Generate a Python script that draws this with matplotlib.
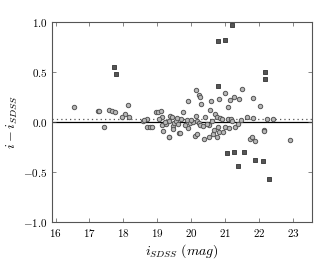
import matplotlib
matplotlib.use("Agg")
import matplotlib.pyplot as plt

plt.rcParams['font.family'] = 'serif'
plt.rcParams['font.serif'] = ['cmr10', 'DejaVu Serif']
plt.rcParams['mathtext.fontset'] = 'cm'
plt.rcParams['axes.formatter.use_mathtext'] = True

# outliers (squares)
sq_mag = [17.72, 17.79, 20.79, 21.0, 21.21, 20.78, 22.18, 22.17,
          21.06, 21.26, 21.36, 21.56, 21.87, 22.10, 22.30]
sq_diff = [0.55, 0.48, 0.81, 0.82, 0.97, 0.36, 0.50, 0.43,
           -0.31, -0.30, -0.44, -0.30, -0.38, -0.39, -0.57]

# regular sources (circles)
c_mag = [16.53, 17.24, 17.29, 17.43, 17.57, 17.65, 17.74, 18.12, 18.04, 17.97,
         18.17, 18.57, 18.70, 18.95, 19.03, 19.11, 19.13, 19.04, 18.70, 18.78,
         18.85, 19.14, 20.14, 20.24, 20.26, 19.90, 20.28, 20.58, 20.82, 20.99,
         21.08, 21.14, 21.26, 21.39, 21.50, 21.81, 22.03, 20.54, 19.74, 19.37,
         19.44, 20.14, 20.71, 20.77, 20.39, 20.85, 20.90, 21.08, 21.17, 21.64,
         21.82, 22.24, 22.42, 19.95, 20.06, 20.17, 20.23, 19.33, 21.46, 19.46,
         19.47, 19.91, 20.26, 20.35, 20.53, 20.80, 21.00, 21.12, 21.30, 22.13,
         19.33, 19.65, 20.10, 20.17, 20.38, 20.51, 20.64, 20.76, 20.82, 21.74,
         21.79, 21.89, 22.14, 22.92, 18.60, 19.17, 19.35, 19.66, 19.48, 19.87,
         19.55, 19.62, 19.70, 19.80, 20.00, 20.45, 20.62, 20.68, 19.25, 19.58,
         19.22, 20.92, 21.20, 21.36]
c_diff = [0.15, 0.11, 0.11, -0.05, 0.12, 0.11, 0.10, 0.17, 0.08, 0.05,
          0.05, 0.01, 0.03, 0.10, 0.10, 0.11, 0.05, 0.03, -0.05, -0.05,
          -0.05, -0.03, 0.32, 0.27, 0.25, 0.21, 0.18, 0.21, 0.23, 0.29,
          0.15, 0.22, 0.25, 0.23, 0.33, 0.24, 0.16, 0.12, 0.10, 0.06,
          0.05, 0.06, 0.08, 0.05, 0.05, 0.04, 0.03, 0.03, 0.03, 0.05,
          0.04, 0.03, 0.03, -0.01, 0.00, 0.01, -0.01, 0.01, 0.02, -0.04,
          -0.07, -0.06, -0.03, -0.04, -0.03, -0.05, -0.05, -0.06, -0.05, -0.08,
          -0.15, -0.11, -0.14, -0.12, -0.17, -0.15, -0.12, -0.15, -0.10, -0.17,
          -0.15, -0.19, -0.09, -0.18, 0.02, -0.09, -0.15, -0.11, -0.01, 0.02,
          0.01, -0.02, 0.03, -0.03, 0.02, -0.02, 0.01, -0.08, -0.02, 0.04,
          0.00, -0.10, 0.01, -0.02]

offset = 0.03

fig = plt.figure(figsize=(3.3, 2.61), dpi=100)
ax = fig.add_axes([0.158, 0.149, 0.787, 0.767])

ax.axhline(0.0, color='black', lw=0.9, zorder=1)
ax.axhline(offset, color='#555555', lw=0.9, ls=(0, (1, 2.5)), zorder=1)

ax.scatter(c_mag, c_diff, s=10, marker='o', facecolor='#b8b8b8',
           edgecolor='#555555', linewidths=0.7, zorder=3)
ax.scatter(sq_mag, sq_diff, s=10, marker='s', facecolor='#555555',
           edgecolor='#333333', linewidths=0.6, zorder=4)

ax.set_xlim(15.9, 23.55)
ax.set_ylim(-1.0, 1.0)
ax.set_xticks([16, 17, 18, 19, 20, 21, 22, 23])
ax.set_yticks([-1.0, -0.5, 0.0, 0.5, 1.0])
ax.yaxis.set_major_formatter(plt.FormatStrFormatter('$%.1f$'))
ax.xaxis.set_major_formatter(plt.FormatStrFormatter('$%d$'))
ax.tick_params(direction='in', top=True, right=True, labelsize=8,
               length=3, width=0.5, color='#555555')
for s in ax.spines.values():
    s.set_color('#555555')
    s.set_linewidth(0.8)

ax.set_xlabel(r'$i_{SDSS}\ (mag)$', fontsize=10, labelpad=2)
ax.set_ylabel(r'$i - i_{SDSS}$', fontsize=10, labelpad=2)

fig.savefig('out.png', dpi=100)
